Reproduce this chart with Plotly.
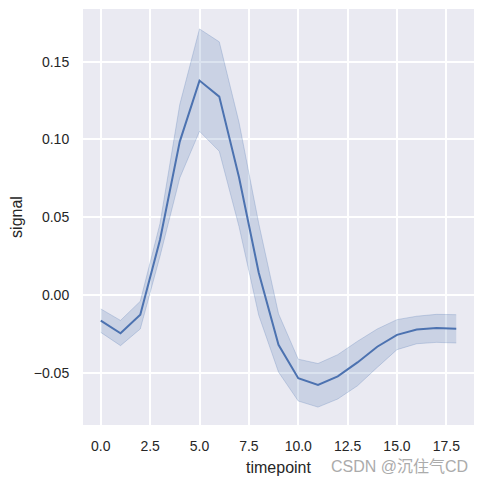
import plotly.graph_objects as go

# mean signal per timepoint with its 95% band
timepoint = list(range(19))
signal_mean = [-0.0164, -0.0246, -0.0126, 0.0355, 0.0986, 0.1378, 0.1275,
               0.0757, 0.0143, -0.0320, -0.0534, -0.0578, -0.0522, -0.0433,
               -0.0332, -0.0256, -0.0222, -0.0212, -0.0216]
signal_upper = [-0.0089, -0.0163, -0.0040, 0.0460, 0.1224, 0.1710, 0.1627,
                0.1110, 0.0460, -0.0120, -0.0412, -0.0440, -0.0383, -0.0297,
                -0.0218, -0.0158, -0.0136, -0.0124, -0.0126]
signal_lower = [-0.0240, -0.0325, -0.0218, 0.0250, 0.0752, 0.1052, 0.0924,
                0.0440, -0.0130, -0.0495, -0.0681, -0.0720, -0.0668, -0.0583,
                -0.0465, -0.0351, -0.0313, -0.0304, -0.0308]

x_ticks = [0, 2.5, 5, 7.5, 10, 12.5, 15, 17.5]
x_labels = ['0.0', '2.5', '5.0', '7.5', '10.0', '12.5', '15.0', '17.5']
y_ticks = [-0.05, 0.0, 0.05, 0.10, 0.15]
y_labels = ['\u22120.05', '0.00', '0.05', '0.10', '0.15']

blue = '#4C72B0'
band = 'rgba(76,114,176,0.2)'
font = 'Liberation Sans, Arial, sans-serif'

fig = go.Figure()

# confidence band: upper edge then lower edge filled back to it
fig.add_trace(go.Scatter(x=timepoint, y=signal_upper, mode='lines',
                         line=dict(color='rgba(76,114,176,0.25)', width=1),
                         hoverinfo='skip', showlegend=False))
fig.add_trace(go.Scatter(x=timepoint, y=signal_lower, mode='lines',
                         line=dict(color='rgba(76,114,176,0.25)', width=1),
                         fill='tonexty', fillcolor=band,
                         hoverinfo='skip', showlegend=False))
fig.add_trace(go.Scatter(x=timepoint, y=signal_mean, mode='lines',
                         line=dict(color=blue, width=2),
                         showlegend=False))

# page body adds 8px, so the figure is a bit smaller than the window
fig.update_layout(
    width=476, height=476,
    margin=dict(l=75, r=10, t=1, b=59),
    paper_bgcolor='white',
    plot_bgcolor='#EAEAF2',
    font=dict(family=font, size=14, color='#262626'),
)

fig.update_xaxes(
    range=[-0.9, 18.9],
    tickvals=x_ticks, ticktext=x_labels,
    showgrid=True, gridcolor='white', gridwidth=1.6,
    zeroline=False, showline=False,
    ticks='outside', ticklen=8, tickcolor='rgba(0,0,0,0)',
    title=dict(text='timepoint', standoff=9, font=dict(size=16)),
)
fig.update_yaxes(
    range=[-0.0835, 0.1838],
    tickvals=y_ticks, ticktext=y_labels,
    showgrid=True, gridcolor='white', gridwidth=1.6,
    zeroline=False, showline=False,
    ticks='outside', ticklen=10, tickcolor='rgba(0,0,0,0)',
    title=dict(text='signal', standoff=11, font=dict(size=16)),
)

fig.add_annotation(text='CSDN @沉住气CD', xref='paper', yref='paper',
                   x=0.99, y=-0.0986, xanchor='right', yanchor='middle',
                   showarrow=False,
                   font=dict(family='Liberation Sans, Noto Sans CJK SC, sans-serif',
                             size=16, color='#ABABAB'))

fig.write_html("out.html")
